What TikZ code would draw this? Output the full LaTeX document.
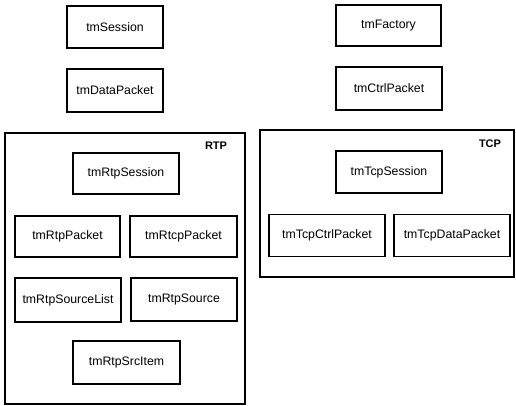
\documentclass[tikz,border=0pt]{standalone}
\usepackage{fontspec}
\setmainfont{Liberation Sans}
\begin{document}
\begin{tikzpicture}[x=1pt,y=-1pt,
  cls/.style={draw=black, line width=1.4pt, rectangle, inner sep=0pt, font=\fontsize{12.3}{14}\selectfont},
  grp/.style={draw=black, line width=1.1pt, rectangle, inner sep=0pt},
  grplabel/.style={font=\bfseries\fontsize{11}{13}\selectfont, inner sep=0pt}]
\useasboundingbox (0,0) rectangle (516,406);
% top-level classes
\node[cls, minimum width=96, minimum height=42] (session) at (115,27) {tmSession};
\node[cls, minimum width=96, minimum height=43] (datapacket) at (115,90.5) {tmDataPacket};
\node[cls, minimum width=105, minimum height=41] (factory) at (388.5,25.5) {tmFactory};
\node[cls, minimum width=106, minimum height=43] (ctrlpacket) at (389,88.5) {tmCtrlPacket};
% RTP group
\node[grp, minimum width=240, minimum height=271] (rtp) at (125,268.5) {};
\node[grplabel] (rtplabel) at (216,146) {RTP};
\node[cls, minimum width=106, minimum height=41] (rtpsession) at (126,173.5) {tmRtpSession};
\node[cls, minimum width=105, minimum height=41] (rtppacket) at (67.5,236.5) {tmRtpPacket};
\node[cls, minimum width=107, minimum height=41] (rtcppacket) at (183.5,236.5) {tmRtcpPacket};
\node[cls, minimum width=106, minimum height=44] (rtpsourcelist) at (68,300) {tmRtpSourceList};
\node[cls, minimum width=106, minimum height=43] (rtpsource) at (184,299.5) {tmRtpSource};
\node[cls, minimum width=107, minimum height=43] (rtpsrcitem) at (126.5,362.5) {tmRtpSrcItem};
% TCP group
\node[grp, minimum width=254, minimum height=147] (tcp) at (387,203.5) {};
\node[grplabel] (tcplabel) at (490,144) {TCP};
\node[cls, minimum width=106, minimum height=42] (tcpsession) at (389,172) {tmTcpSession};
\node[cls, minimum width=116, minimum height=42] (tcpctrlpacket) at (327,235.5) {tmTcpCtrlPacket};
\node[cls, minimum width=116, minimum height=42] (tcpdatapacket) at (452,235.5) {tmTcpDataPacket};
\end{tikzpicture}
\end{document}
